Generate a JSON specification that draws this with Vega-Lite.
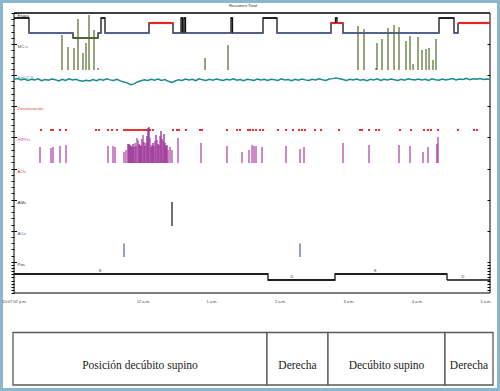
{
 "$schema": "https://vega.github.io/schema/vega-lite/v6.json",
 "width": 500, "height": 391,
 "autosize": {"type": "fit", "contains": "padding"},
 "padding": 0,
 "background": "white",
 "title": {"text": "Resumen Total", "fontSize": 4.2, "font": "Liberation Sans", "fontWeight": "normal", "color": "#333", "offset": -8, "anchor": "middle", "dx": -7},
 "config": {"view": {"stroke": "#8cb6cb", "strokeWidth": 6}, "font": "Liberation Sans"},
 "datasets": {
  "marco": [{"inicio": 22.1172, "fin": 29.066}],
  "canales": [
   {"canal": "Etapa", "fila": 0}, {"canal": "MC.s", "fila": 1}, {"canal": "SpO2 %", "fila": 2},
   {"canal": "Desaturación", "fila": 3}, {"canal": "HIPOs", "fila": 4}, {"canal": "AOs", "fila": 5},
   {"canal": "AMs", "fila": 6}, {"canal": "ACs", "fila": 7}, {"canal": "Pos", "fila": 8}
  ],
  "etapas": [
   {"inicio": 22.1172, "fin": 22.336, "etapa": "W"},
   {"inicio": 22.336, "fin": 22.9785, "etapa": "N2"},
   {"inicio": 22.9785, "fin": 23.3435, "etapa": "N3"},
   {"inicio": 23.3435, "fin": 23.3873, "etapa": "N2"},
   {"inicio": 23.3873, "fin": 23.4457, "etapa": "W"},
   {"inicio": 23.4457, "fin": 24.088, "etapa": "N2"},
   {"inicio": 24.088, "fin": 24.4384, "etapa": "REM"},
   {"inicio": 24.4384, "fin": 24.5552, "etapa": "N2"},
   {"inicio": 24.5552, "fin": 24.5771, "etapa": "W"},
   {"inicio": 24.5771, "fin": 24.599, "etapa": "N2"},
   {"inicio": 24.599, "fin": 24.6208, "etapa": "W"},
   {"inicio": 24.6208, "fin": 25.2851, "etapa": "N2"},
   {"inicio": 25.2851, "fin": 25.307, "etapa": "W"},
   {"inicio": 25.307, "fin": 25.7522, "etapa": "N2"},
   {"inicio": 25.7522, "fin": 25.9566, "etapa": "W"},
   {"inicio": 25.9566, "fin": 26.7449, "etapa": "N2"},
   {"inicio": 26.7449, "fin": 26.8106, "etapa": "REM"},
   {"inicio": 26.8106, "fin": 26.8325, "etapa": "W"},
   {"inicio": 26.8325, "fin": 26.9201, "etapa": "REM"},
   {"inicio": 26.9201, "fin": 28.3216, "etapa": "N2"},
   {"inicio": 28.3216, "fin": 28.5406, "etapa": "W"},
   {"inicio": 28.5406, "fin": 28.599, "etapa": "N2"},
   {"inicio": 28.599, "fin": 29.066, "etapa": "REM"}
  ],
  "mcs": [
   {"t": 22.818, "v": 35}, {"t": 22.9055, "v": 23}, {"t": 22.9931, "v": 22}, {"t": 23.0515, "v": 51},
   {"t": 23.1245, "v": 17}, {"t": 23.1683, "v": 27}, {"t": 23.2121, "v": 55}, {"t": 23.2851, "v": 40},
   {"t": 23.3435, "v": 2}, {"t": 24.9055, "v": 12}, {"t": 25.2413, "v": 25}, {"t": 27.1391, "v": 44},
   {"t": 27.2267, "v": 41}, {"t": 27.4019, "v": 2}, {"t": 27.4165, "v": 27}, {"t": 27.4895, "v": 31},
   {"t": 27.5771, "v": 42}, {"t": 27.6646, "v": 45}, {"t": 27.7376, "v": 43}, {"t": 27.8398, "v": 29},
   {"t": 27.8982, "v": 34}, {"t": 27.942, "v": 6}, {"t": 28.015, "v": 33}, {"t": 28.0734, "v": 20},
   {"t": 28.1318, "v": 21}, {"t": 28.1756, "v": 22}, {"t": 28.234, "v": 10}, {"t": 28.2778, "v": 31}
  ],
  "spo2": [
   {"t": 22.12, "v": 96.0}, {"t": 22.17, "v": 96.8}, {"t": 22.22, "v": 95.3}, {"t": 22.27, "v": 96.3}, {"t": 22.32, "v": 95.0},
   {"t": 22.37, "v": 96.1}, {"t": 22.42, "v": 95.5}, {"t": 22.47, "v": 96.5}, {"t": 22.52, "v": 94.7}, {"t": 22.57, "v": 95.8},
   {"t": 22.62, "v": 95.2}, {"t": 22.67, "v": 96.3}, {"t": 22.72, "v": 95.7}, {"t": 22.77, "v": 94.5}, {"t": 22.82, "v": 96.0},
   {"t": 22.87, "v": 95.0}, {"t": 22.92, "v": 96.5}, {"t": 22.97, "v": 95.3}, {"t": 23.02, "v": 96.1}, {"t": 23.07, "v": 94.9},
   {"t": 23.12, "v": 94.1}, {"t": 23.17, "v": 95.2}, {"t": 23.22, "v": 94.4}, {"t": 23.27, "v": 95.8}, {"t": 23.32, "v": 94.7},
   {"t": 23.37, "v": 96.1}, {"t": 23.42, "v": 95.2}, {"t": 23.47, "v": 96.6}, {"t": 23.52, "v": 95.5}, {"t": 23.57, "v": 94.9},
   {"t": 23.62, "v": 96.0}, {"t": 23.67, "v": 94.5}, {"t": 23.72, "v": 93.4}, {"t": 23.77, "v": 92.6}, {"t": 23.82, "v": 90.8},
   {"t": 23.87, "v": 91.6}, {"t": 23.92, "v": 93.5}, {"t": 23.97, "v": 94.7}, {"t": 24.02, "v": 95.7}, {"t": 24.07, "v": 95.0},
   {"t": 24.12, "v": 96.1}, {"t": 24.17, "v": 95.2}, {"t": 24.22, "v": 96.3}, {"t": 24.27, "v": 94.9}, {"t": 24.32, "v": 95.8},
   {"t": 24.37, "v": 94.1}, {"t": 24.42, "v": 93.0}, {"t": 24.47, "v": 94.4}, {"t": 24.52, "v": 95.7}, {"t": 24.57, "v": 95.0},
   {"t": 24.62, "v": 96.3}, {"t": 24.67, "v": 95.3}, {"t": 24.72, "v": 96.0}, {"t": 24.77, "v": 94.7}, {"t": 24.82, "v": 96.5},
   {"t": 24.87, "v": 95.5}, {"t": 24.92, "v": 95.0}, {"t": 24.97, "v": 96.1}, {"t": 25.02, "v": 95.2}, {"t": 25.07, "v": 96.3},
   {"t": 25.12, "v": 95.7}, {"t": 25.17, "v": 94.9}, {"t": 25.22, "v": 96.0}, {"t": 25.27, "v": 95.3}, {"t": 25.32, "v": 96.6},
   {"t": 25.37, "v": 95.2}, {"t": 25.42, "v": 95.8}, {"t": 25.47, "v": 94.7}, {"t": 25.52, "v": 96.1}, {"t": 25.57, "v": 95.5},
   {"t": 25.62, "v": 95.0}, {"t": 25.67, "v": 96.3}, {"t": 25.72, "v": 95.3}, {"t": 25.77, "v": 96.0}, {"t": 25.82, "v": 94.9},
   {"t": 25.87, "v": 96.1}, {"t": 25.92, "v": 95.7}, {"t": 25.97, "v": 95.0}, {"t": 26.02, "v": 96.5}, {"t": 26.07, "v": 95.3},
   {"t": 26.12, "v": 95.8}, {"t": 26.17, "v": 94.7}, {"t": 26.22, "v": 96.0}, {"t": 26.27, "v": 95.2}, {"t": 26.32, "v": 96.3},
   {"t": 26.37, "v": 95.5}, {"t": 26.42, "v": 94.9}, {"t": 26.47, "v": 96.1}, {"t": 26.52, "v": 95.3}, {"t": 26.57, "v": 96.6},
   {"t": 26.62, "v": 95.7}, {"t": 26.67, "v": 95.0}, {"t": 26.72, "v": 96.3}, {"t": 26.77, "v": 96.7}, {"t": 26.82, "v": 97.4},
   {"t": 26.87, "v": 96.6}, {"t": 26.92, "v": 95.8}, {"t": 26.97, "v": 94.9}, {"t": 27.02, "v": 96.0}, {"t": 27.07, "v": 95.3},
   {"t": 27.12, "v": 96.3}, {"t": 27.17, "v": 95.2}, {"t": 27.22, "v": 95.8}, {"t": 27.27, "v": 94.7}, {"t": 27.32, "v": 96.1},
   {"t": 27.37, "v": 95.5}, {"t": 27.42, "v": 96.5}, {"t": 27.47, "v": 95.0}, {"t": 27.52, "v": 96.0}, {"t": 27.57, "v": 95.3},
   {"t": 27.62, "v": 96.3}, {"t": 27.67, "v": 95.7}, {"t": 27.72, "v": 94.9}, {"t": 27.77, "v": 96.1}, {"t": 27.82, "v": 95.2},
   {"t": 27.87, "v": 96.6}, {"t": 27.92, "v": 95.8}, {"t": 27.97, "v": 95.3}, {"t": 28.02, "v": 96.3}, {"t": 28.07, "v": 95.5},
   {"t": 28.12, "v": 96.1}, {"t": 28.17, "v": 95.0}, {"t": 28.22, "v": 96.5}, {"t": 28.27, "v": 95.7}, {"t": 28.32, "v": 95.2},
   {"t": 28.37, "v": 96.3}, {"t": 28.42, "v": 95.3}, {"t": 28.47, "v": 96.0}, {"t": 28.52, "v": 96.8}, {"t": 28.57, "v": 95.5},
   {"t": 28.62, "v": 96.3}, {"t": 28.67, "v": 95.8}, {"t": 28.72, "v": 96.9}, {"t": 28.77, "v": 95.7}, {"t": 28.82, "v": 96.5},
   {"t": 28.87, "v": 96.0}, {"t": 28.92, "v": 96.8}, {"t": 28.97, "v": 95.8}, {"t": 29.02, "v": 96.3}, {"t": 29.06, "v": 96.0}
  ],
  "desat": [
   {"t": 22.5114}, {"t": 22.6573}, {"t": 22.6865}, {"t": 22.7887}, {"t": 22.8763}, {"t": 23.3143}, {"t": 23.3581},
   {"t": 23.4895}, {"t": 23.5479}, {"t": 23.6208}, {"t": 23.723}, {"t": 23.7522}, {"t": 23.7814}, {"t": 23.796},
   {"t": 23.8252}, {"t": 23.8544}, {"t": 23.869}, {"t": 23.8982}, {"t": 23.9128}, {"t": 23.942}, {"t": 23.9566},
   {"t": 23.9858}, {"t": 24.0004}, {"t": 24.0296}, {"t": 24.0442}, {"t": 24.0734}, {"t": 24.1026}, {"t": 24.1464},
   {"t": 24.4384}, {"t": 24.4968}, {"t": 24.526}, {"t": 24.6281}, {"t": 24.8325}, {"t": 24.8617}, {"t": 25.2267},
   {"t": 25.3727}, {"t": 25.4165}, {"t": 25.5333}, {"t": 25.5625}, {"t": 25.6063}, {"t": 25.65}, {"t": 25.7084},
   {"t": 25.7522}, {"t": 25.9712}, {"t": 26.088}, {"t": 26.1902}, {"t": 26.2778}, {"t": 26.3216}, {"t": 26.3654},
   {"t": 26.5114}, {"t": 26.599}, {"t": 26.8617}, {"t": 27.1683}, {"t": 27.1975}, {"t": 27.2997}, {"t": 27.4019},
   {"t": 27.4457}, {"t": 27.7522}, {"t": 27.9128}, {"t": 28.1026}, {"t": 28.161}, {"t": 28.2048}, {"t": 28.307},
   {"t": 28.599}, {"t": 28.8325}, {"t": 28.8763}
  ],
  "hipos": [
   {"t": 22.4968, "d": 16, "tipo": "B"}, {"t": 22.6573, "d": 15, "tipo": "B"}, {"t": 22.6865, "d": 16, "tipo": "B"},
   {"t": 22.7887, "d": 17, "tipo": "B"}, {"t": 22.8763, "d": 18, "tipo": "B"}, {"t": 23.4895, "d": 17, "tipo": "B"},
   {"t": 23.5625, "d": 17, "tipo": "B"}, {"t": 23.5917, "d": 16, "tipo": "B"}, {"t": 23.723, "d": 11, "tipo": "B"},
   {"t": 23.7522, "d": 13, "tipo": "B"}, {"t": 23.7814, "d": 19, "tipo": "A"}, {"t": 23.796, "d": 19, "tipo": "A"},
   {"t": 23.8106, "d": 18, "tipo": "A"}, {"t": 23.8252, "d": 17, "tipo": "A"}, {"t": 23.8398, "d": 16, "tipo": "A"},
   {"t": 23.8544, "d": 19, "tipo": "A"}, {"t": 23.869, "d": 16, "tipo": "A"}, {"t": 23.8836, "d": 20, "tipo": "B"},
   {"t": 23.8982, "d": 17, "tipo": "A"}, {"t": 23.9128, "d": 25, "tipo": "B"}, {"t": 23.9274, "d": 23, "tipo": "B"},
   {"t": 23.942, "d": 19, "tipo": "A"}, {"t": 23.9566, "d": 18, "tipo": "A"}, {"t": 23.9712, "d": 17, "tipo": "A"},
   {"t": 23.9858, "d": 24, "tipo": "A"}, {"t": 24.0004, "d": 28, "tipo": "B"}, {"t": 24.015, "d": 21, "tipo": "A"},
   {"t": 24.0296, "d": 17, "tipo": "A"}, {"t": 24.0442, "d": 20, "tipo": "B"}, {"t": 24.0588, "d": 27, "tipo": "A"},
   {"t": 24.0734, "d": 35, "tipo": "A"}, {"t": 24.088, "d": 36, "tipo": "A"}, {"t": 24.1026, "d": 25, "tipo": "B"},
   {"t": 24.1172, "d": 16, "tipo": "A"}, {"t": 24.1318, "d": 18, "tipo": "A"}, {"t": 24.1464, "d": 20, "tipo": "A"},
   {"t": 24.161, "d": 17, "tipo": "A"}, {"t": 24.1756, "d": 22, "tipo": "B"}, {"t": 24.1902, "d": 28, "tipo": "A"},
   {"t": 24.2048, "d": 23, "tipo": "B"}, {"t": 24.2194, "d": 19, "tipo": "A"}, {"t": 24.234, "d": 18, "tipo": "A"},
   {"t": 24.2486, "d": 27, "tipo": "B"}, {"t": 24.2632, "d": 32, "tipo": "A"}, {"t": 24.2778, "d": 24, "tipo": "A"},
   {"t": 24.2924, "d": 22, "tipo": "B"}, {"t": 24.307, "d": 29, "tipo": "A"}, {"t": 24.3216, "d": 20, "tipo": "A"},
   {"t": 24.3362, "d": 17, "tipo": "A"}, {"t": 24.3508, "d": 18, "tipo": "A"}, {"t": 24.3654, "d": 13, "tipo": "B"},
   {"t": 24.3946, "d": 16, "tipo": "B"}, {"t": 24.4238, "d": 13, "tipo": "B"}, {"t": 24.5114, "d": 25, "tipo": "B"},
   {"t": 24.8471, "d": 20, "tipo": "B"}, {"t": 25.2267, "d": 17, "tipo": "B"}, {"t": 25.4457, "d": 11, "tipo": "B"},
   {"t": 25.5479, "d": 13, "tipo": "B"}, {"t": 25.5917, "d": 18, "tipo": "B"}, {"t": 25.6208, "d": 17, "tipo": "B"},
   {"t": 25.65, "d": 17, "tipo": "B"}, {"t": 25.7376, "d": 16, "tipo": "B"}, {"t": 26.088, "d": 17, "tipo": "B"},
   {"t": 26.2924, "d": 14, "tipo": "B"}, {"t": 26.3508, "d": 16, "tipo": "B"}, {"t": 26.9201, "d": 20, "tipo": "B"},
   {"t": 27.2997, "d": 18, "tipo": "B"}, {"t": 27.7376, "d": 18, "tipo": "B"}, {"t": 27.8982, "d": 17, "tipo": "B"},
   {"t": 28.088, "d": 11, "tipo": "B"}, {"t": 28.161, "d": 16, "tipo": "B"}, {"t": 28.2924, "d": 19, "tipo": "A"},
   {"t": 28.307, "d": 26, "tipo": "B"}
  ],
  "ams": [{"t": 24.4238}],
  "acs": [{"t": 23.723}, {"t": 26.2924}],
  "posicion": [
   {"inicio": 22.1172, "fin": 25.8252, "pos": "S"}, {"inicio": 25.8252, "fin": 26.8033, "pos": "D"},
   {"inicio": 26.8033, "fin": 28.4384, "pos": "S"}, {"inicio": 28.4384, "fin": 29.066, "pos": "D"}
  ],
  "poslab": [
   {"t": 23.3727, "pos": "S"}, {"t": 26.1756, "pos": "D"}, {"t": 27.3873, "pos": "S"}, {"t": 28.6719, "pos": "D"}
  ],
  "tabla": [
   {"inicio": 22.1026, "fin": 25.8106, "pos": "Posición decúbito supino"},
   {"inicio": 25.8106, "fin": 26.7011, "pos": "Derecha"},
   {"inicio": 26.7011, "fin": 28.4092, "pos": "Decúbito supino"},
   {"inicio": 28.4092, "fin": 29.1099, "pos": "Derecha"}
  ]
 },
 "layer": [
  {
   "data": {"name": "tabla"},
   "mark": {"type": "rect", "fill": "white", "stroke": "#5a5a5a", "strokeWidth": 1.3},
   "encoding": {
    "x": {"field": "inicio", "type": "quantitative", "title": null, "scale": {"domain": [22.1172, 29.066], "range": [14, 490], "nice": false, "zero": false}},
    "x2": {"field": "fin"},
    "y": {"datum": 0, "type": "quantitative", "scale": {"domain": [0, 1], "range": [385, 332.5], "nice": false, "zero": false}, "axis": null},
    "y2": {"datum": 1}
   }
  },
  {
   "data": {"name": "tabla"},
   "transform": [{"calculate": "(datum.inicio + datum.fin) / 2", "as": "medio"}],
   "mark": {"type": "text", "font": "Liberation Serif", "fontSize": 11.5, "color": "#222", "baseline": "middle", "align": "center"},
   "encoding": {
    "x": {"field": "medio", "type": "quantitative", "title": null, "scale": {"domain": [22.1172, 29.066], "range": [14, 490], "nice": false, "zero": false}},
    "y": {"datum": 0.362, "type": "quantitative", "scale": {"domain": [0, 1], "range": [385, 332.5], "nice": false, "zero": false}, "axis": null},
    "text": {"field": "pos"}
   }
  },
  {
   "data": {"name": "marco"},
   "mark": {"type": "rect", "filled": false, "color": "#000", "strokeWidth": 1},
   "encoding": {
    "x": {"field": "inicio", "type": "quantitative", "title": null, "scale": {"domain": [22.1172, 29.066], "range": [14, 490], "nice": false, "zero": false}},
    "x2": {"field": "fin"},
    "y": {"datum": 0, "type": "quantitative", "scale": {"domain": [0, 9], "range": [13, 293], "nice": false, "zero": false},
     "axis": {"orient": "left", "offset": -14, "labels": false, "domain": false, "grid": false, "title": null, "tickColor": "#000", "tickSize": 3, "tickWidth": 1,
      "values": [0,0.2,0.4,0.6,0.8,1,1.2,1.4,1.6,1.8,2,2.2,2.4,2.6,2.8,3,3.2,3.4,3.6,3.8,4,4.2,4.4,4.6,4.8,5,5.2,5.4,5.6,5.8,6,6.2,6.4,6.6,6.8,7,7.2,7.4,7.6,7.8,8,8.1,8.2,8.3,8.4,8.5,8.6,8.7,8.8,8.9,9]}},
    "y2": {"datum": 9}
   }
  },
  {
   "data": {"name": "canales"},
   "mark": {"type": "text", "align": "left", "baseline": "middle", "dx": 3.5, "dy": 3, "fontSize": 4.4, "font": "Liberation Sans"},
   "encoding": {
    "x": {"datum": 22.1172, "type": "quantitative", "title": null, "scale": {"domain": [22.1172, 29.066], "range": [14, 490], "nice": false, "zero": false}},
    "y": {"field": "fila", "type": "quantitative", "scale": {"domain": [0, 9], "range": [13, 293], "nice": false, "zero": false},
     "axis": {"orient": "left", "offset": -14, "labels": false, "domain": false, "grid": false, "title": null, "tickColor": "#000", "tickSize": -2.5, "tickWidth": 1, "values": [0,1,2,3,4,5,6,7,8]}},
    "text": {"field": "canal"},
    "color": {"field": "canal", "type": "nominal", "legend": null,
     "scale": {"domain": ["Etapa","MC.s","SpO2 %","Desaturación","HIPOs","AOs","AMs","ACs","Pos"],
               "range": ["#333","#555","#2a9a9a","#e8403a","#c04ab8","#e04040","#333","#4a5ab0","#333"]}}
   }
  },
  {
   "data": {"name": "marco"},
   "mark": {"type": "rule", "color": "#000", "strokeWidth": 1},
   "encoding": {
    "x": {"field": "inicio", "type": "quantitative", "title": null, "scale": {"domain": [22.1172, 29.066], "range": [14, 490], "nice": false, "zero": false}},
    "x2": {"field": "fin"},
    "y": {"datum": 0, "type": "quantitative", "scale": {"domain": [0, 9], "range": [13, 293], "nice": false, "zero": false},
     "axis": {"orient": "right", "offset": -10, "labels": false, "domain": false, "grid": false, "title": null, "tickColor": "#000", "tickSize": -3, "tickWidth": 1,
      "values": [1,2,3,4,5,6,7,8,8.1,8.2,8.3,8.4,8.5,8.6,8.7,8.8,8.9]}}
   }
  },
  {
   "data": {"name": "etapas"},
   "mark": {"type": "line", "interpolate": "step-after", "orient": "horizontal", "color": "#111", "strokeWidth": 1.3},
   "encoding": {
    "x": {"field": "inicio", "type": "quantitative", "scale": {"domain": [22.1172, 29.066], "range": [14, 490], "nice": false, "zero": false},
     "axis": {"orient": "bottom", "offset": -98, "title": null, "ticks": false, "domain": false, "grid": false, "labelPadding": 6, "labelFontSize": 4, "labelColor": "#444", "labelOverlap": false, "labelFlush": false,
      "values": [22.1172, 24, 25, 26, 27, 28, 29],
      "labelExpr": "datum.value < 23 ? '10:07:02 p.m.' : (datum.value == 24 ? '12 a.m.' : (datum.value - 24) + ' a.m.')"}},
    "y": {"field": "etapa", "type": "nominal", "sort": null, "scale": {"type": "point", "domain": ["W","REM","N1","N2","N3"], "range": [18, 38], "padding": 0}, "axis": null},
    "order": {"field": "inicio", "type": "quantitative"}
   }
  },
  {
   "data": {"name": "etapas"},
   "mark": {"type": "rule"},
   "encoding": {
    "x": {"field": "inicio", "type": "quantitative", "title": null, "scale": {"domain": [22.1172, 29.066], "range": [14, 490], "nice": false, "zero": false}},
    "x2": {"field": "fin"},
    "y": {"field": "etapa", "type": "nominal", "sort": null, "scale": {"type": "point", "domain": ["W","REM","N1","N2","N3"], "range": [18, 38], "padding": 0}, "axis": null},
    "color": {"field": "etapa", "type": "nominal", "legend": null, "scale": {"domain": ["W","REM","N1","N2","N3"], "range": ["#111","#e3261f","#3a9a9a","#5a6aab","#4d7a2c"]}},
    "strokeWidth": {"condition": {"test": "datum.etapa === 'REM'", "value": 2.2}, "value": 1.3}
   }
  },
  {
   "data": {"name": "mcs"},
   "mark": {"type": "rule", "color": "#4f6b28", "strokeWidth": 1.2},
   "encoding": {
    "x": {"field": "t", "type": "quantitative", "title": null, "scale": {"domain": [22.1172, 29.066], "range": [14, 490], "nice": false, "zero": false}},
    "y": {"field": "v", "type": "quantitative", "scale": {"domain": [0, 60], "range": [70, 10], "nice": false, "zero": false}, "axis": null},
    "y2": {"datum": 0}
   }
  },
  {
   "data": {"name": "spo2"},
   "mark": {"type": "line", "color": "#1a8a8a", "strokeWidth": 1.5},
   "encoding": {
    "x": {"field": "t", "type": "quantitative", "title": null, "scale": {"domain": [22.1172, 29.066], "range": [14, 490], "nice": false, "zero": false}},
    "y": {"field": "v", "type": "quantitative", "scale": {"domain": [70, 100], "range": [106.3, 75.2], "nice": false, "zero": false}, "axis": null}
   }
  },
  {
   "data": {"name": "desat"},
   "mark": {"type": "square", "color": "#e8342c", "size": 4, "opacity": 1},
   "encoding": {
    "x": {"field": "t", "type": "quantitative", "title": null, "scale": {"domain": [22.1172, 29.066], "range": [14, 490], "nice": false, "zero": false}},
    "y": {"datum": 3.761, "type": "quantitative", "scale": {"domain": [0, 9], "range": [13, 293], "nice": false, "zero": false}, "axis": null}
   }
  },
  {
   "data": {"name": "hipos"},
   "mark": {"type": "rule", "strokeWidth": 1.3},
   "encoding": {
    "x": {"field": "t", "type": "quantitative", "title": null, "scale": {"domain": [22.1172, 29.066], "range": [14, 490], "nice": false, "zero": false}},
    "y": {"field": "d", "type": "quantitative", "scale": {"domain": [0, 40], "range": [163, 123], "nice": false, "zero": false}, "axis": null},
    "y2": {"datum": 0},
    "color": {"field": "tipo", "type": "nominal", "legend": null, "scale": {"domain": ["A","B"], "range": ["#962a90","#b04aa8"]}}
   }
  },
  {
   "data": {"name": "ams"},
   "mark": {"type": "rule", "color": "#111", "strokeWidth": 1.2},
   "encoding": {
    "x": {"field": "t", "type": "quantitative", "title": null, "scale": {"domain": [22.1172, 29.066], "range": [14, 490], "nice": false, "zero": false}},
    "y": {"datum": 6.075, "type": "quantitative", "scale": {"domain": [0, 9], "range": [13, 293], "nice": false, "zero": false}, "axis": null},
    "y2": {"datum": 6.847}
   }
  },
  {
   "data": {"name": "acs"},
   "mark": {"type": "rule", "color": "#4a58ad", "strokeWidth": 1.2},
   "encoding": {
    "x": {"field": "t", "type": "quantitative", "title": null, "scale": {"domain": [22.1172, 29.066], "range": [14, 490], "nice": false, "zero": false}},
    "y": {"datum": 7.41, "type": "quantitative", "scale": {"domain": [0, 9], "range": [13, 293], "nice": false, "zero": false}, "axis": null},
    "y2": {"datum": 7.843}
   }
  },
  {
   "data": {"name": "posicion"},
   "mark": {"type": "line", "interpolate": "step-after", "orient": "horizontal", "color": "#111", "strokeWidth": 1.3},
   "encoding": {
    "x": {"field": "inicio", "type": "quantitative", "title": null, "scale": {"domain": [22.1172, 29.066], "range": [14, 490], "nice": false, "zero": false}},
    "y": {"field": "pos", "type": "nominal", "sort": null, "scale": {"type": "point", "domain": ["S","D"], "range": [274, 280], "padding": 0}, "axis": null},
    "order": {"field": "inicio", "type": "quantitative"}
   }
  },
  {
   "data": {"name": "posicion"},
   "mark": {"type": "rule", "color": "#111", "strokeWidth": 1.3},
   "encoding": {
    "x": {"field": "inicio", "type": "quantitative", "title": null, "scale": {"domain": [22.1172, 29.066], "range": [14, 490], "nice": false, "zero": false}},
    "x2": {"field": "fin"},
    "y": {"field": "pos", "type": "nominal", "sort": null, "scale": {"type": "point", "domain": ["S","D"], "range": [274, 280], "padding": 0}, "axis": null}
   }
  },
  {
   "data": {"name": "poslab"},
   "mark": {"type": "text", "baseline": "bottom", "align": "center", "dy": -1, "fontSize": 4, "color": "#333", "font": "Liberation Sans"},
   "encoding": {
    "x": {"field": "t", "type": "quantitative", "title": null, "scale": {"domain": [22.1172, 29.066], "range": [14, 490], "nice": false, "zero": false}},
    "y": {"field": "pos", "type": "nominal", "sort": null, "scale": {"type": "point", "domain": ["S","D"], "range": [274, 280], "padding": 0}, "axis": null},
    "text": {"field": "pos"}
   }
  }
 ],
 "resolve": {"scale": {"y": "independent", "color": "independent"}, "axis": {"y": "independent"}}
}
